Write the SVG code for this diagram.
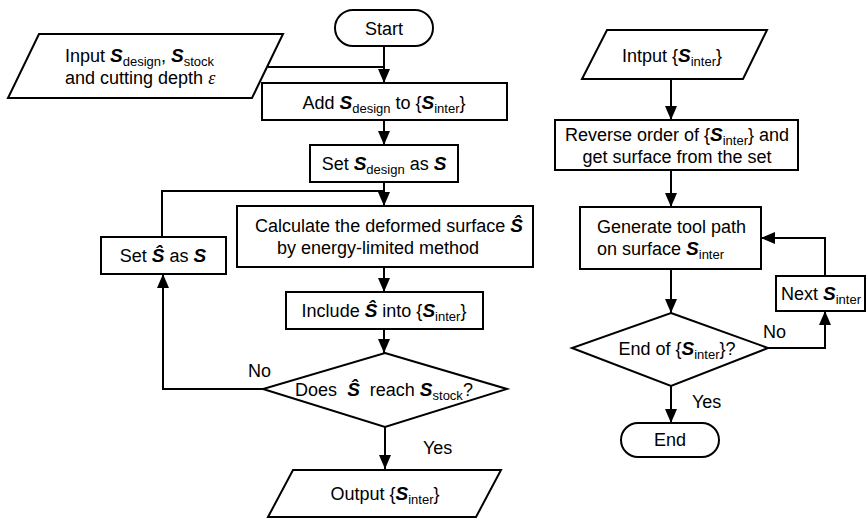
<svg xmlns="http://www.w3.org/2000/svg" width="866" height="518" viewBox="0 0 866 518">
<defs>
<marker id="ah" markerUnits="userSpaceOnUse" markerWidth="14" markerHeight="12" refX="14" refY="6" orient="auto">
<path d="M0,0 L14,6 L0,12 z" fill="#000"/>
</marker>
<style>
.s{fill:#fff;stroke:#000;stroke-width:2}
.c{fill:none;stroke:#000;stroke-width:2}
.a{marker-end:url(#ah)}
text{font-family:"Liberation Sans",Arial,sans-serif;font-size:18px;fill:#000}
.b{font-weight:bold;font-style:italic;font-size:19px}
.sub{font-size:13px}
.eps{font-family:"Liberation Serif","Times New Roman",serif;font-style:italic}
</style>
</defs>
<rect width="866" height="518" fill="#fff"/>
<g id="connectors">
<path class="c a" d="M384,46 V83"/>
<path class="c" d="M268,67 H384"/>
<path class="c a" d="M384,120 V145"/>
<path class="c a" d="M384,182 V206"/>
<path class="c" d="M162,237 V191 H384"/>
<path class="c a" d="M384,267 V292"/>
<path class="c a" d="M384,329 V353"/>
<path class="c a" d="M263,389 H163 V274"/>
<path class="c a" d="M385,427 V469"/>
<path class="c a" d="M671,79 V120"/>
<path class="c a" d="M671,170 V207"/>
<path class="c a" d="M671,269 V313"/>
<path class="c a" d="M768,348 H825 V311"/>
<path class="c a" d="M825,276 V238 H761"/>
<path class="c a" d="M671,386 V423"/>
</g>
<g id="start">
<rect class="s" x="335" y="10" width="98" height="36" rx="18"/>
<text x="384" y="35" text-anchor="middle">Start</text>
</g>
<g id="input">
<path class="s" d="M39,34 H283 L252,98 H8 Z"/>
<text x="65" y="62">Input <tspan class="b">S</tspan><tspan class="sub" dy="4">design</tspan><tspan dy="-4">, </tspan><tspan class="b">S</tspan><tspan class="sub" dy="4">stock</tspan></text>
<text x="65" y="84">and cutting depth <tspan class="eps">ε</tspan></text>
</g>
<g id="add">
<rect class="s" x="262" y="83" width="245" height="37"/>
<text x="384" y="109" text-anchor="middle">Add <tspan class="b">S</tspan><tspan class="sub" dy="4">design</tspan><tspan dy="-4"> to {</tspan><tspan class="b">S</tspan><tspan class="sub" dy="4">inter</tspan><tspan dy="-4">}</tspan></text>
</g>
<g id="setdesign">
<rect class="s" x="310" y="145" width="148" height="37"/>
<text x="384" y="170" text-anchor="middle">Set <tspan class="b">S</tspan><tspan class="sub" dy="4">design</tspan><tspan dy="-4"> as </tspan><tspan class="b">S</tspan></text>
</g>
<g id="calc">
<rect class="s" x="237" y="206" width="296" height="61"/>
<text x="389" y="232" text-anchor="middle">Calculate the deformed surface <tspan class="b">Ŝ</tspan></text>
<text x="378" y="254" text-anchor="middle">by energy-limited method</text>
</g>
<g id="sethat">
<rect class="s" x="101" y="237" width="125" height="37"/>
<text x="163" y="262" text-anchor="middle">Set <tspan class="b">Ŝ</tspan> as <tspan class="b">S</tspan></text>
</g>
<g id="include">
<rect class="s" x="286" y="292" width="197" height="37"/>
<text x="384" y="317" text-anchor="middle">Include <tspan class="b">Ŝ</tspan> into {<tspan class="b">S</tspan><tspan class="sub" dy="4">inter</tspan><tspan dy="-4">}</tspan></text>
</g>
<g id="decision1">
<path class="s" d="M385,353 L507,389 L385,427 L263,389 Z"/>
<text x="384" y="396" text-anchor="middle">Does <tspan class="b" dx="5">Ŝ</tspan><tspan dx="5"> reach </tspan><tspan class="b">S</tspan><tspan class="sub" dy="4">stock</tspan><tspan dy="-4">?</tspan></text>
<text x="248" y="377">No</text>
<text x="423" y="454">Yes</text>
</g>
<g id="output">
<path class="s" d="M293,470 H501 L476,517 H268 Z"/>
<text x="385" y="500" text-anchor="middle">Output {<tspan class="b">S</tspan><tspan class="sub" dy="4">inter</tspan><tspan dy="-4">}</tspan></text>
</g>
<g id="intput">
<path class="s" d="M607,30 H767 L743,79 H582 Z"/>
<text x="672" y="62" text-anchor="middle">Intput {<tspan class="b">S</tspan><tspan class="sub" dy="4">inter</tspan><tspan dy="-4">}</tspan></text>
</g>
<g id="reverse">
<rect class="s" x="555" y="120" width="243" height="50"/>
<text x="677" y="141" text-anchor="middle">Reverse order of {<tspan class="b">S</tspan><tspan class="sub" dy="4">inter</tspan><tspan dy="-4">} and</tspan></text>
<text x="677" y="163" text-anchor="middle">get surface from the set</text>
</g>
<g id="generate">
<rect class="s" x="580" y="207" width="181" height="62"/>
<text x="597" y="233">Generate tool path</text>
<text x="597" y="255">on surface <tspan class="b">S</tspan><tspan class="sub" dy="4">inter</tspan></text>
</g>
<g id="next">
<rect class="s" x="776" y="276" width="89" height="35"/>
<text x="781" y="300">Next <tspan class="b">S</tspan><tspan class="sub" dy="4">inter</tspan></text>
</g>
<g id="decision2">
<path class="s" d="M671,313 L768,348 L671,386 L572,348 Z"/>
<text x="677" y="355" text-anchor="middle">End of {<tspan class="b">S</tspan><tspan class="sub" dy="4">inter</tspan><tspan dy="-4">}?</tspan></text>
<text x="763" y="338">No</text>
<text x="692" y="408">Yes</text>
</g>
<g id="end">
<rect class="s" x="621" y="423" width="98" height="34" rx="17"/>
<text x="670" y="446" text-anchor="middle">End</text>
</g>
</svg>
